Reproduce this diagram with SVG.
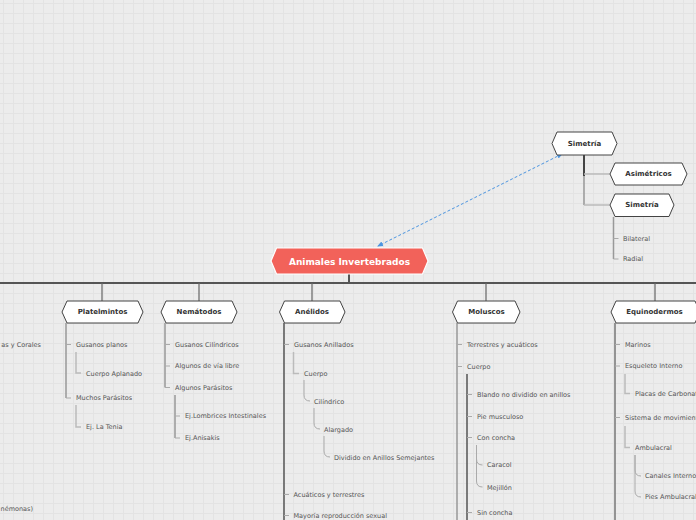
<svg xmlns="http://www.w3.org/2000/svg" width="696" height="520" viewBox="0 0 696 520">
<style>
.node{fill:#fff;stroke:#444;stroke-width:1}
.nt{font-family:"DejaVu Sans",Verdana,sans-serif;font-size:7px;font-weight:bold;fill:#333;text-anchor:middle;dominant-baseline:central}
.lt{font-family:"DejaVu Sans",Verdana,sans-serif;font-size:6.5px;fill:#555;dominant-baseline:central}
.bus{stroke:#555;stroke-width:2;fill:none}
.drop{stroke:#666;stroke-width:1.2;fill:none}
.l1d{stroke:#555;stroke-width:1.5;fill:none}
.l1{stroke:#999;stroke-width:1.5;fill:none}
.l1m{stroke:#777;stroke-width:1.5;fill:none}
.tick{stroke:#aaa;stroke-width:1;fill:none}
.sub{stroke:#bbb;stroke-width:1.5;fill:none}
.cur{stroke:#aaa;stroke-width:1;fill:none}
</style>
<defs>
<pattern id="grid" width="10" height="10" patternUnits="userSpaceOnUse" x="3" y="3">
<rect width="10" height="10" fill="#ececec"/>
<path d="M0,0.5H10M0.5,0V10" stroke="#e3e3e3" stroke-width="1" fill="none"/>
</pattern>
<marker id="ah" viewBox="0 0 6 6" refX="5" refY="3" markerWidth="6" markerHeight="6" orient="auto-start-reverse">
<path d="M0,0.5L6,3L0,5.5z" fill="#4c95e0"/>
</marker>
</defs>
<rect width="696" height="520" fill="url(#grid)"/>

<g id="connectors">
<line x1="562" y1="154" x2="378" y2="246" stroke="#4c95e0" stroke-width="1" stroke-dasharray="3 2" marker-start="url(#ah)" marker-end="url(#ah)"/>
<line x1="584" y1="155" x2="584" y2="176" stroke="#444" stroke-width="2"/>
<line x1="584" y1="176" x2="584" y2="205" stroke="#999" stroke-width="1.5"/>
<path class="sub" d="M584,174H610M584,205H610"/>
<path class="l1" d="M613.5,217V259"/>
<path class="tick" d="M613.5,238.5H618.5M613.5,259H618.5"/>
<line class="bus" x1="349" y1="274" x2="349" y2="283"/>
<line class="bus" x1="0" y1="283" x2="696" y2="283"/>
<path class="drop" d="M102,283V301M199,283V301M312,283V301M486,283V301M655,283V301"/>
<path class="l1" d="M66,323V398"/>
<path class="tick" d="M66,344.5H71M66,398H71"/>
<path class="sub" d="M76,352V373H81M76,405V427H81"/>
<path class="l1" d="M165,323V387.5"/>
<path class="tick" d="M165,344.5H170M165,366H170M165,387.5H170"/>
<path class="l1" d="M175,395V438"/>
<path class="tick" d="M175,416H180M175,438H180"/>
<path class="l1d" d="M284,323V520"/>
<path class="tick" d="M284,344.5H289M284,494.5H289M284,515.5H289"/>
<path class="sub" d="M293.5,352V373.5H299"/>
<path class="cur" d="M304,380V395Q304,401 310,401M314,408V423Q314,429 320,429M324,436V451Q324,457 330,457"/>
<path class="l1" d="M457,323V520"/>
<path class="tick" d="M457,344.5H462M457,366.5H462"/>
<path class="l1d" d="M467,374V520"/>
<path class="tick" d="M467,394.5H472M467,416.5H472M467,437.5H472M467,512.5H472"/>
<path class="cur" d="M476.5,445V459Q476.5,465 482.5,465M476.5,445V481Q476.5,487 482.5,487"/>
<path class="l1m" d="M615,323V520"/>
<path class="tick" d="M615,344.5H620M615,366H620M615,417.5H620"/>
<path class="sub" d="M625,374V393.5H630M625,426V447.5H630"/>
<path class="cur" d="M635,455V470Q635,476 641,476M635,455V491Q635,497 641,497"/>
</g>

<g id="main">
<polygon points="271,261 276.5,248 422.5,248 428,261 422.5,274 276.5,274" fill="#f2625a" stroke="#fff" stroke-width="1.2"/>
<text x="349.5" y="261.5" style="font-family:'DejaVu Sans',Verdana,sans-serif;font-size:9px;font-weight:bold;fill:#fff;text-anchor:middle;dominant-baseline:central">Animales Invertebrados</text>
</g>

<g id="simetria">
<polygon class="node" points="552,143.5 557,132 612,132 617,143.5 612,155 557,155"/>
<text class="nt" x="584.5" y="143.5">Simetría</text>
</g>
<g id="asimetricos">
<polygon class="node" points="610,174 615,163 682,163 687,174 682,185 615,185"/>
<text class="nt" x="648.5" y="174">Asimétricos</text>
</g>
<g id="simetria2">
<polygon class="node" points="610,205 615,194 669,194 674,205 669,216.5 615,216.5"/>
<text class="nt" x="642" y="205">Simetría</text>
</g>
<text id="bilateral" class="lt" x="623" y="238.5">Bilateral</text>
<text id="radial" class="lt" x="623" y="259">Radial</text>

<g id="platelmintos">
<polygon class="node" points="62,312 67,301 138,301 143,312 138,323 67,323"/>
<text class="nt" x="102.5" y="312">Platelmintos</text>
</g>
<text id="p1" class="lt" x="76" y="344.5">Gusanos planos</text>
<text id="p2" class="lt" x="86" y="373.5">Cuerpo Aplanado</text>
<text id="p3" class="lt" x="76" y="398">Muchos Parásitos</text>
<text id="p4" class="lt" x="86" y="427">Ej. La Tenia</text>

<g id="nematodos">
<polygon class="node" points="161,312 166,301 232,301 237,312 232,323 166,323"/>
<text class="nt" x="199" y="312">Nemátodos</text>
</g>
<text id="n1" class="lt" x="175" y="344.5">Gusanos Cilíndricos</text>
<text id="n2" class="lt" x="175" y="366">Algunos de vía libre</text>
<text id="n3" class="lt" x="175" y="387.5">Algunos Parásitos</text>
<text id="n4" class="lt" x="185" y="416">Ej.Lombrices Intestinales</text>
<text id="n5" class="lt" x="185" y="438">Ej.Anisakis</text>

<g id="anelidos">
<polygon class="node" points="279.5,312 284.5,301 340,301 345,312 340,323 284.5,323"/>
<text class="nt" x="312" y="312">Anélidos</text>
</g>
<text id="a1" class="lt" x="294" y="344.5">Gusanos Anillados</text>
<text id="a2" class="lt" x="304" y="373.5">Cuerpo</text>
<text id="a3" class="lt" x="314" y="401.5">Cilíndrico</text>
<text id="a4" class="lt" x="324" y="429.5">Alargado</text>
<text id="a5" class="lt" x="334" y="457.5">Dividido en Anillos Semejantes</text>
<text id="a6" class="lt" x="293.5" y="494.5">Acuáticos y terrestres</text>
<text id="a7" class="lt" x="293.5" y="515.5">Mayoría reproducción sexual</text>

<g id="moluscos">
<polygon class="node" points="452.5,312 457.5,301 515,301 520,312 515,323 457.5,323"/>
<text class="nt" x="486.5" y="312">Moluscos</text>
</g>
<text id="m1" class="lt" x="467" y="344.5">Terrestres y acuáticos</text>
<text id="m2" class="lt" x="467" y="366.5">Cuerpo</text>
<text id="m3" class="lt" x="477" y="394.5">Blando no dividido en anillos</text>
<text id="m4" class="lt" x="477" y="416.5">Pie musculoso</text>
<text id="m5" class="lt" x="477" y="437.5">Con concha</text>
<text id="m6" class="lt" x="487" y="465">Caracol</text>
<text id="m7" class="lt" x="487" y="487.5">Mejillón</text>
<text id="m8" class="lt" x="477" y="512.5">Sin concha</text>

<g id="equinodermos">
<polygon class="node" points="611,312 616,301 695,301 700,312 695,323 616,323"/>
<text class="nt" x="654.5" y="312">Equinodermos</text>
</g>
<text id="e1" class="lt" x="625" y="344.5">Marinos</text>
<text id="e2" class="lt" x="625" y="366">Esqueleto Interno</text>
<text id="e3" class="lt" x="635" y="393.5">Placas de Carbonato</text>
<text id="e4" class="lt" x="625" y="417.5">Sistema de movimiento</text>
<text id="e5" class="lt" x="635" y="447.5">Ambulacral</text>
<text id="e6" class="lt" x="645" y="476">Canales Internos</text>
<text id="e7" class="lt" x="645" y="497">Pies Ambulacrales</text>

<text id="c1" class="lt" x="41" y="344.5" text-anchor="end">as y Corales</text>
<text id="c2" class="lt" x="33" y="508.5" text-anchor="end">némonas)</text>
</svg>
